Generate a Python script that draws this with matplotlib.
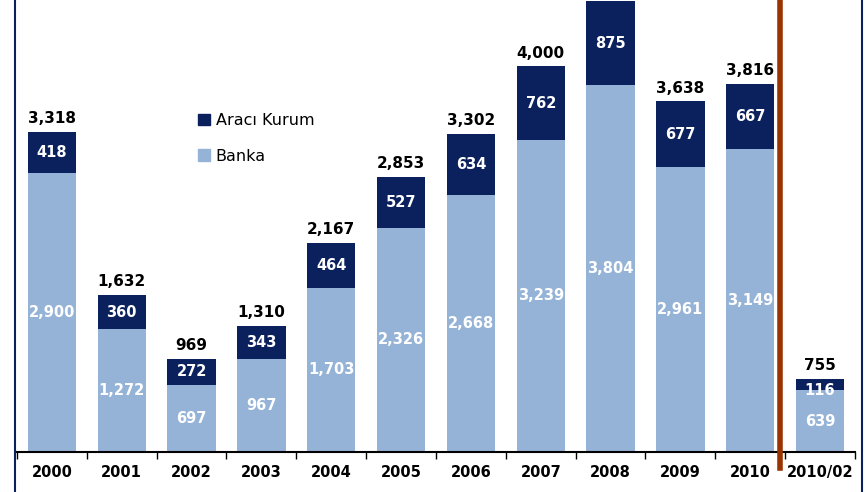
import matplotlib
matplotlib.use("Agg")
import matplotlib.pyplot as plt
from matplotlib.lines import Line2D
from matplotlib.patches import Patch
import numpy as np

years = ["2000", "2001", "2002", "2003", "2004", "2005", "2006", "2007", "2008", "2009", "2010", "2010/02"]
banka = [2900, 1272, 697, 967, 1703, 2326, 2668, 3239, 3804, 2961, 3149, 639]
araci = [418, 360, 272, 343, 464, 527, 634, 762, 875, 677, 667, 116]
totals = [3318, 1632, 969, 1310, 2167, 2853, 3302, 4000, 4679, 3638, 3816, 755]

c_dark = "#0B215E"
c_light = "#95B3D7"

fig = plt.figure(figsize=(8.68, 4.92), dpi=100)
ax = fig.add_axes([17/868, 40/492, (855-17)/868, 452/492])
x = np.arange(len(years))
w = 0.69
ax.bar(x, banka, width=w, color=c_light, zorder=2)
ax.bar(x, araci, width=w, bottom=banka, color=c_dark, zorder=2)

ymax = 4690
ax.set_xlim(-0.5, len(years) - 0.5)
ax.set_ylim(0, ymax)

for i in range(len(years)):
    b, a, t = banka[i], araci[i], totals[i]
    ax.text(x[i], b / 2, f"{b:,}", ha="center", va="center", color="white",
            fontsize=10.5, fontweight="bold", zorder=3)
    ya = b + a / 2 if a > 200 else b
    ax.text(x[i], ya, f"{a:,}", ha="center", va="center", color="white",
            fontsize=10.5, fontweight="bold", zorder=3)
    if t + 300 < ymax:
        ax.text(x[i], t + 60, f"{t:,}", ha="center", va="bottom", color="black",
                fontsize=11, fontweight="bold", zorder=3)

for s in ["top", "right", "left"]:
    ax.spines[s].set_visible(False)
ax.spines["bottom"].set_linewidth(1.5)
ax.set_yticks([])
ax.set_xticks(np.arange(-0.5, len(years)), minor=False)
ax.set_xticklabels([])
ax.tick_params(axis="x", direction="out", length=5, width=1)
for i, lab in enumerate(years):
    ax.text(x[i], -215, lab, ha="center", va="center", fontsize=10.5,
            fontweight="bold", color="black", clip_on=False)

# separator line
ax.axvline(10.43, ymin=-0.035, ymax=1, color="#993300", lw=4, clip_on=False, zorder=4)

handles = [Patch(color=c_dark, label="Aracı Kurum"), Patch(color=c_light, label="Banka")]
fig.legend(handles=handles, loc="upper left", bbox_to_anchor=(198/868, 1 - 113/492),
           frameon=False, fontsize=11.5, handlelength=0.75, handleheight=0.75,
           handletextpad=0.35, labelspacing=1.3, borderaxespad=0, borderpad=0)

# frame lines
fig.add_artist(Line2D([15/868, 15/868], [0, 1], color="#0B215E", lw=1.5))
fig.add_artist(Line2D([862/868, 862/868], [0, 1], color="#0B215E", lw=1.5))

fig.savefig("out.png", dpi=100)
